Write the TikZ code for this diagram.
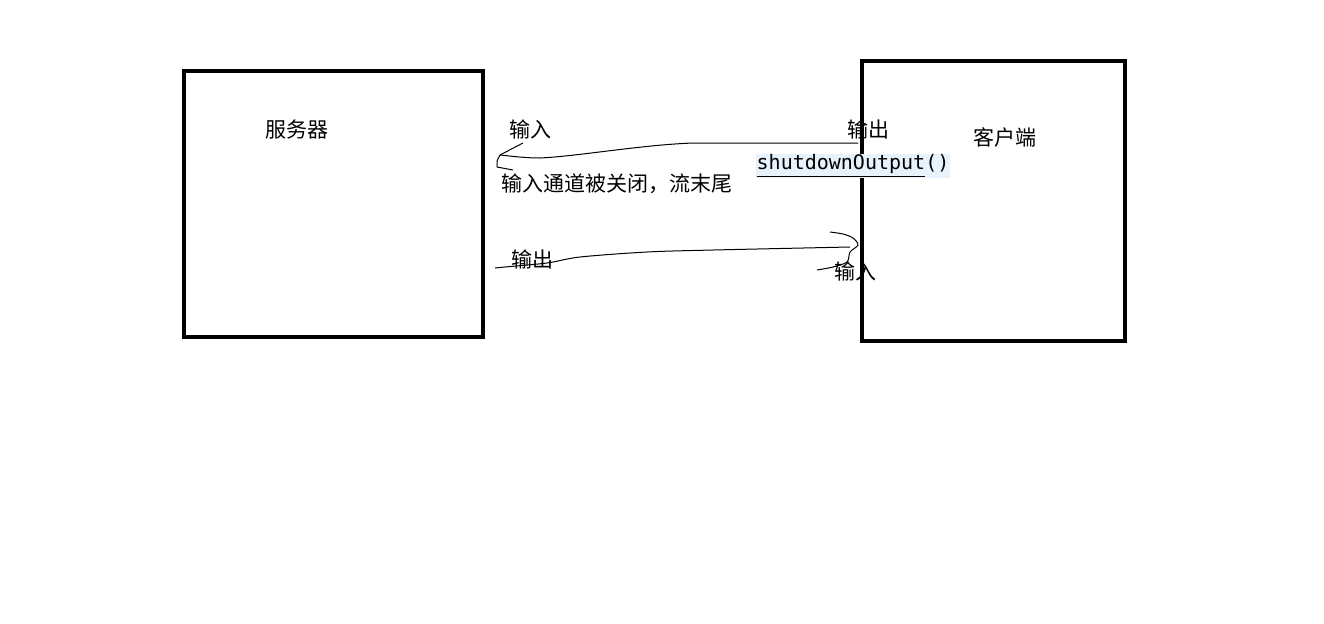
\documentclass[tikz,border=0pt]{standalone}
\usepackage{fontspec}
\newfontfamily\cjk{Noto Sans CJK SC}
\setmonofont{DejaVu Sans Mono}
\usetikzlibrary{positioning}
\definecolor{codebg}{HTML}{E8F2FD}

\begin{document}
\begin{tikzpicture}[x=0.5pt,y=-0.5pt]
		\useasboundingbox (0,0) rectangle (1324,623);
		\begin{scope}[every node/.style={draw,line width=2pt,inner sep=0pt}]
		    \node (server) at (333.5,204) [minimum width=149.5pt,minimum height=133pt] {};
		    \node (client) at (993.5,201) [minimum width=131.5pt,minimum height=140pt] {};
		\end{scope}
		
		\begin{scope}[every node/.style={inner sep=0pt,font=\cjk\fontsize{10.5}{12}\selectfont}]
		    \node (sname) at (297,130) {服务器};
		    \node (cname) at (1005,137) {客户端};
		    \node (in1) at (530,129) {输入};
		    \node (out1) at (868,129) {输出};
		    \node (closed) at (617,184) {输入通道被关闭，流末尾};
		    \node (out2) at (532,259) {输出};
		    \node (in2) at (855,271) {输入};
		    \node (shut) at (853,166) [fill=codebg,inner xsep=0.5pt,minimum height=12pt,font=\ttfamily\fontsize{10}{12}\selectfont] {\underline{shutdownOutput}()};
		\end{scope}
		
		\coordinate (outC) at (858,143);
		\coordinate (inS) at (500,155);
		\coordinate (outS) at (495,268);
		\coordinate (inC) at (858,245);
		
		\begin{scope}[every path/.style={draw=black,line width=0.5pt}]
		    \path (outC) -- (693,143) .. controls (640,145) and (580,156) .. (540,158) .. controls (525,158) and (510,156) .. (inS);
		    \path (523,143) -- (inS) -- (497,161) -- (497,167) -- (513,170);
		    \path plot[smooth] coordinates {(outS) (505,267) (547,263) (580,257) (647,252) (713,250) (850,247)};
		    \path plot[smooth] coordinates {(830,232) (843,234) (853,238) (inC) (850,252) (847,262) (833,267) (817,270)};
		\end{scope}
\end{tikzpicture}
\end{document}
